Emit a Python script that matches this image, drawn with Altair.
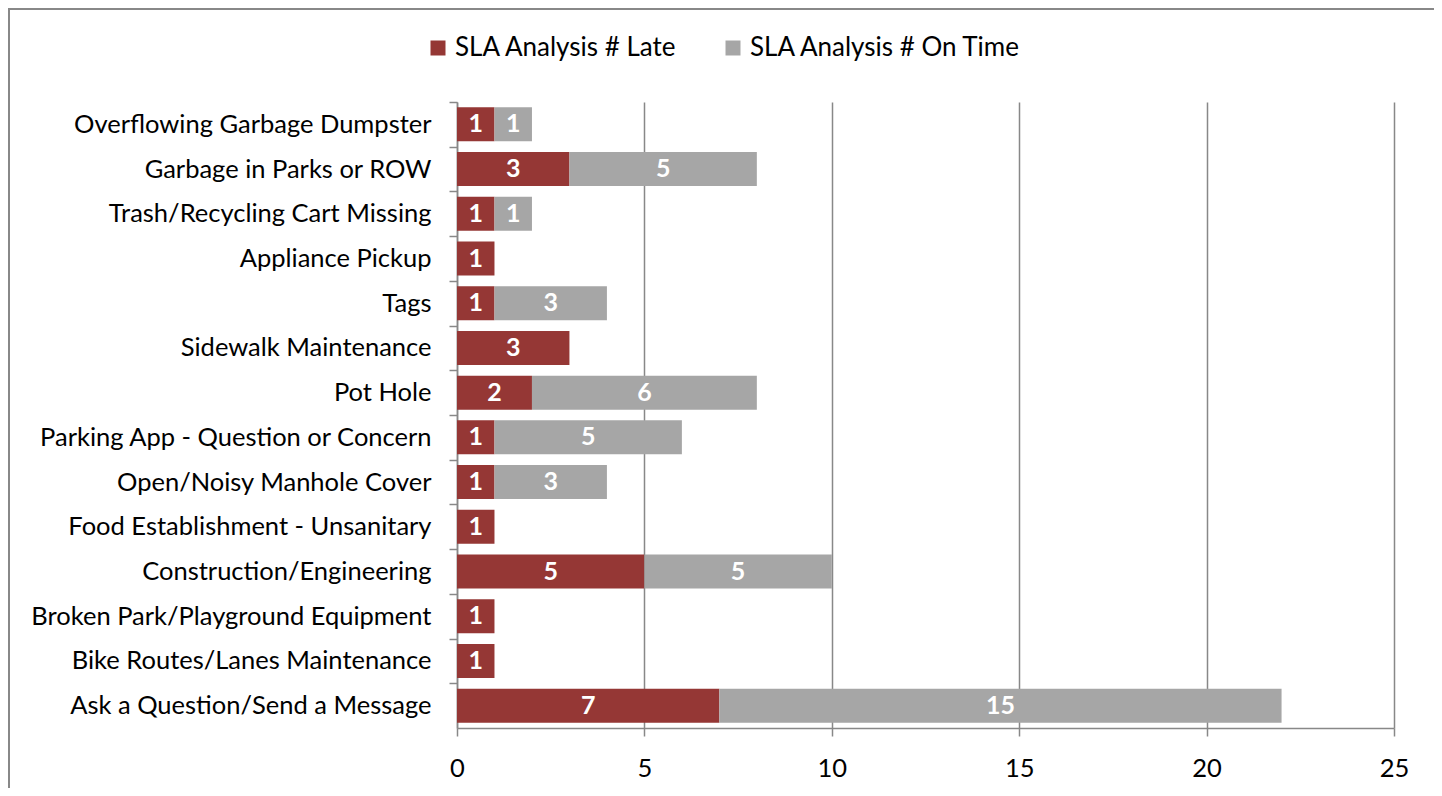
import altair as alt
import pandas as pd

categories = [
    "Overflowing Garbage Dumpster",
    "Garbage in Parks or ROW",
    "Trash/Recycling Cart Missing",
    "Appliance Pickup",
    "Tags",
    "Sidewalk Maintenance",
    "Pot Hole",
    "Parking App - Question or Concern",
    "Open/Noisy Manhole Cover",
    "Food Establishment - Unsanitary",
    "Construction/Engineering",
    "Broken Park/Playground Equipment",
    "Bike Routes/Lanes Maintenance",
    "Ask a Question/Send a Message",
]
late = [1, 3, 1, 1, 1, 3, 2, 1, 1, 1, 5, 1, 1, 7]
on_time = [1, 5, 1, 0, 3, 0, 6, 5, 3, 0, 5, 0, 0, 15]
series_names = ["SLA Analysis # Late", "SLA Analysis # On Time"]
series_colors = ["#953735", "#A6A6A6"]
x_ticks = [0, 5, 10, 15, 20, 25]

FONT = "Lato"
FS = 25.5
H = 626
STEP = H / len(categories)

rows = []
for i, c in enumerate(categories):
    for s_idx, (name, vals) in enumerate(zip(series_names, [late, on_time])):
        rows.append({"category": c, "series": name, "order": s_idx, "value": vals[i]})
df = pd.DataFrame(rows)

base = (
    alt.Chart(df)
    .transform_filter("datum.value > 0")
    .transform_stack(
        stack="value",
        groupby=["category"],
        as_=["x0", "x1"],
        sort=[alt.SortField("order", order="ascending")],
    )
    .transform_calculate(mid="(datum.x0 + datum.x1) / 2")
)

y_enc = alt.Y(
    "category:N",
    sort=categories,
    title=None,
    scale=alt.Scale(paddingInner=0.24, paddingOuter=0.12),
    axis=alt.Axis(
        labelFontSize=FS,
        labelFont=FONT,
        labelColor="#000000",
        labelPadding=18,
        ticks=True,
        tickSize=8,
        tickColor="#888888",
        tickWidth=1.5,
        tickOffset=-STEP / 2,
        labelOffset=STEP / 2,
        domainColor="#888888",
        domainWidth=1.5,
        labelLimit=600,
    ),
)

bars = base.mark_bar().encode(
    x=alt.X(
        "x0:Q",
        title=None,
        scale=alt.Scale(domain=[0, 25], nice=False),
        axis=alt.Axis(
            values=x_ticks,
            labelFontSize=FS,
            labelFont=FONT,
            labelColor="#000000",
            labelFlush=False,
            tickSize=8,
            tickColor="#888888",
            tickWidth=1.5,
            domainColor="#888888",
            domainWidth=1.5,
            grid=True,
            gridColor="#888888",
            gridWidth=1.5,
            labelPadding=20,
        ),
    ),
    x2="x1:Q",
    y=y_enc,
    color=alt.Color(
        "series:N",
        scale=alt.Scale(domain=series_names, range=series_colors),
        legend=alt.Legend(
            title=None,
            orient="none",
            direction="horizontal",
            legendX=-32,
            legendY=-67,
            symbolType="square",
            symbolSize=225,
            symbolStrokeWidth=0,
            symbolOpacity=1,
            labelFontSize=26,
            labelFont=FONT,
            labelColor="#000000",
            labelOffset=4,
            columnPadding=42,
            labelLimit=600,
        ),
    ),
    order=alt.Order("order:Q"),
)

text = base.mark_text(
    color="white", fontWeight="bold", fontSize=25, font=FONT, baseline="middle"
).encode(
    x=alt.X("mid:Q"),
    y=alt.Y("category:N", sort=categories),
    text=alt.Text("value:Q"),
)

frame = (
    alt.Chart(alt.Data(values=[{"a": 1}]))
    .mark_rect(fill=None, stroke="#888888", strokeWidth=2)
    .encode(
        x=alt.value(-448),
        x2=alt.value(980),
        y=alt.value(-93),
        y2=alt.value(720),
    )
)

chart = (
    alt.layer(bars, text, frame)
    .properties(
        width=937,
        height=H,
        autosize=alt.AutoSizeParams(type="none"),
        padding={"left": 449, "top": 94, "right": 40, "bottom": 60},
        background="white",
    )
    .configure_view(stroke=None)
)

chart.save("out.html", embed_options={"renderer": "svg", "actions": False})
